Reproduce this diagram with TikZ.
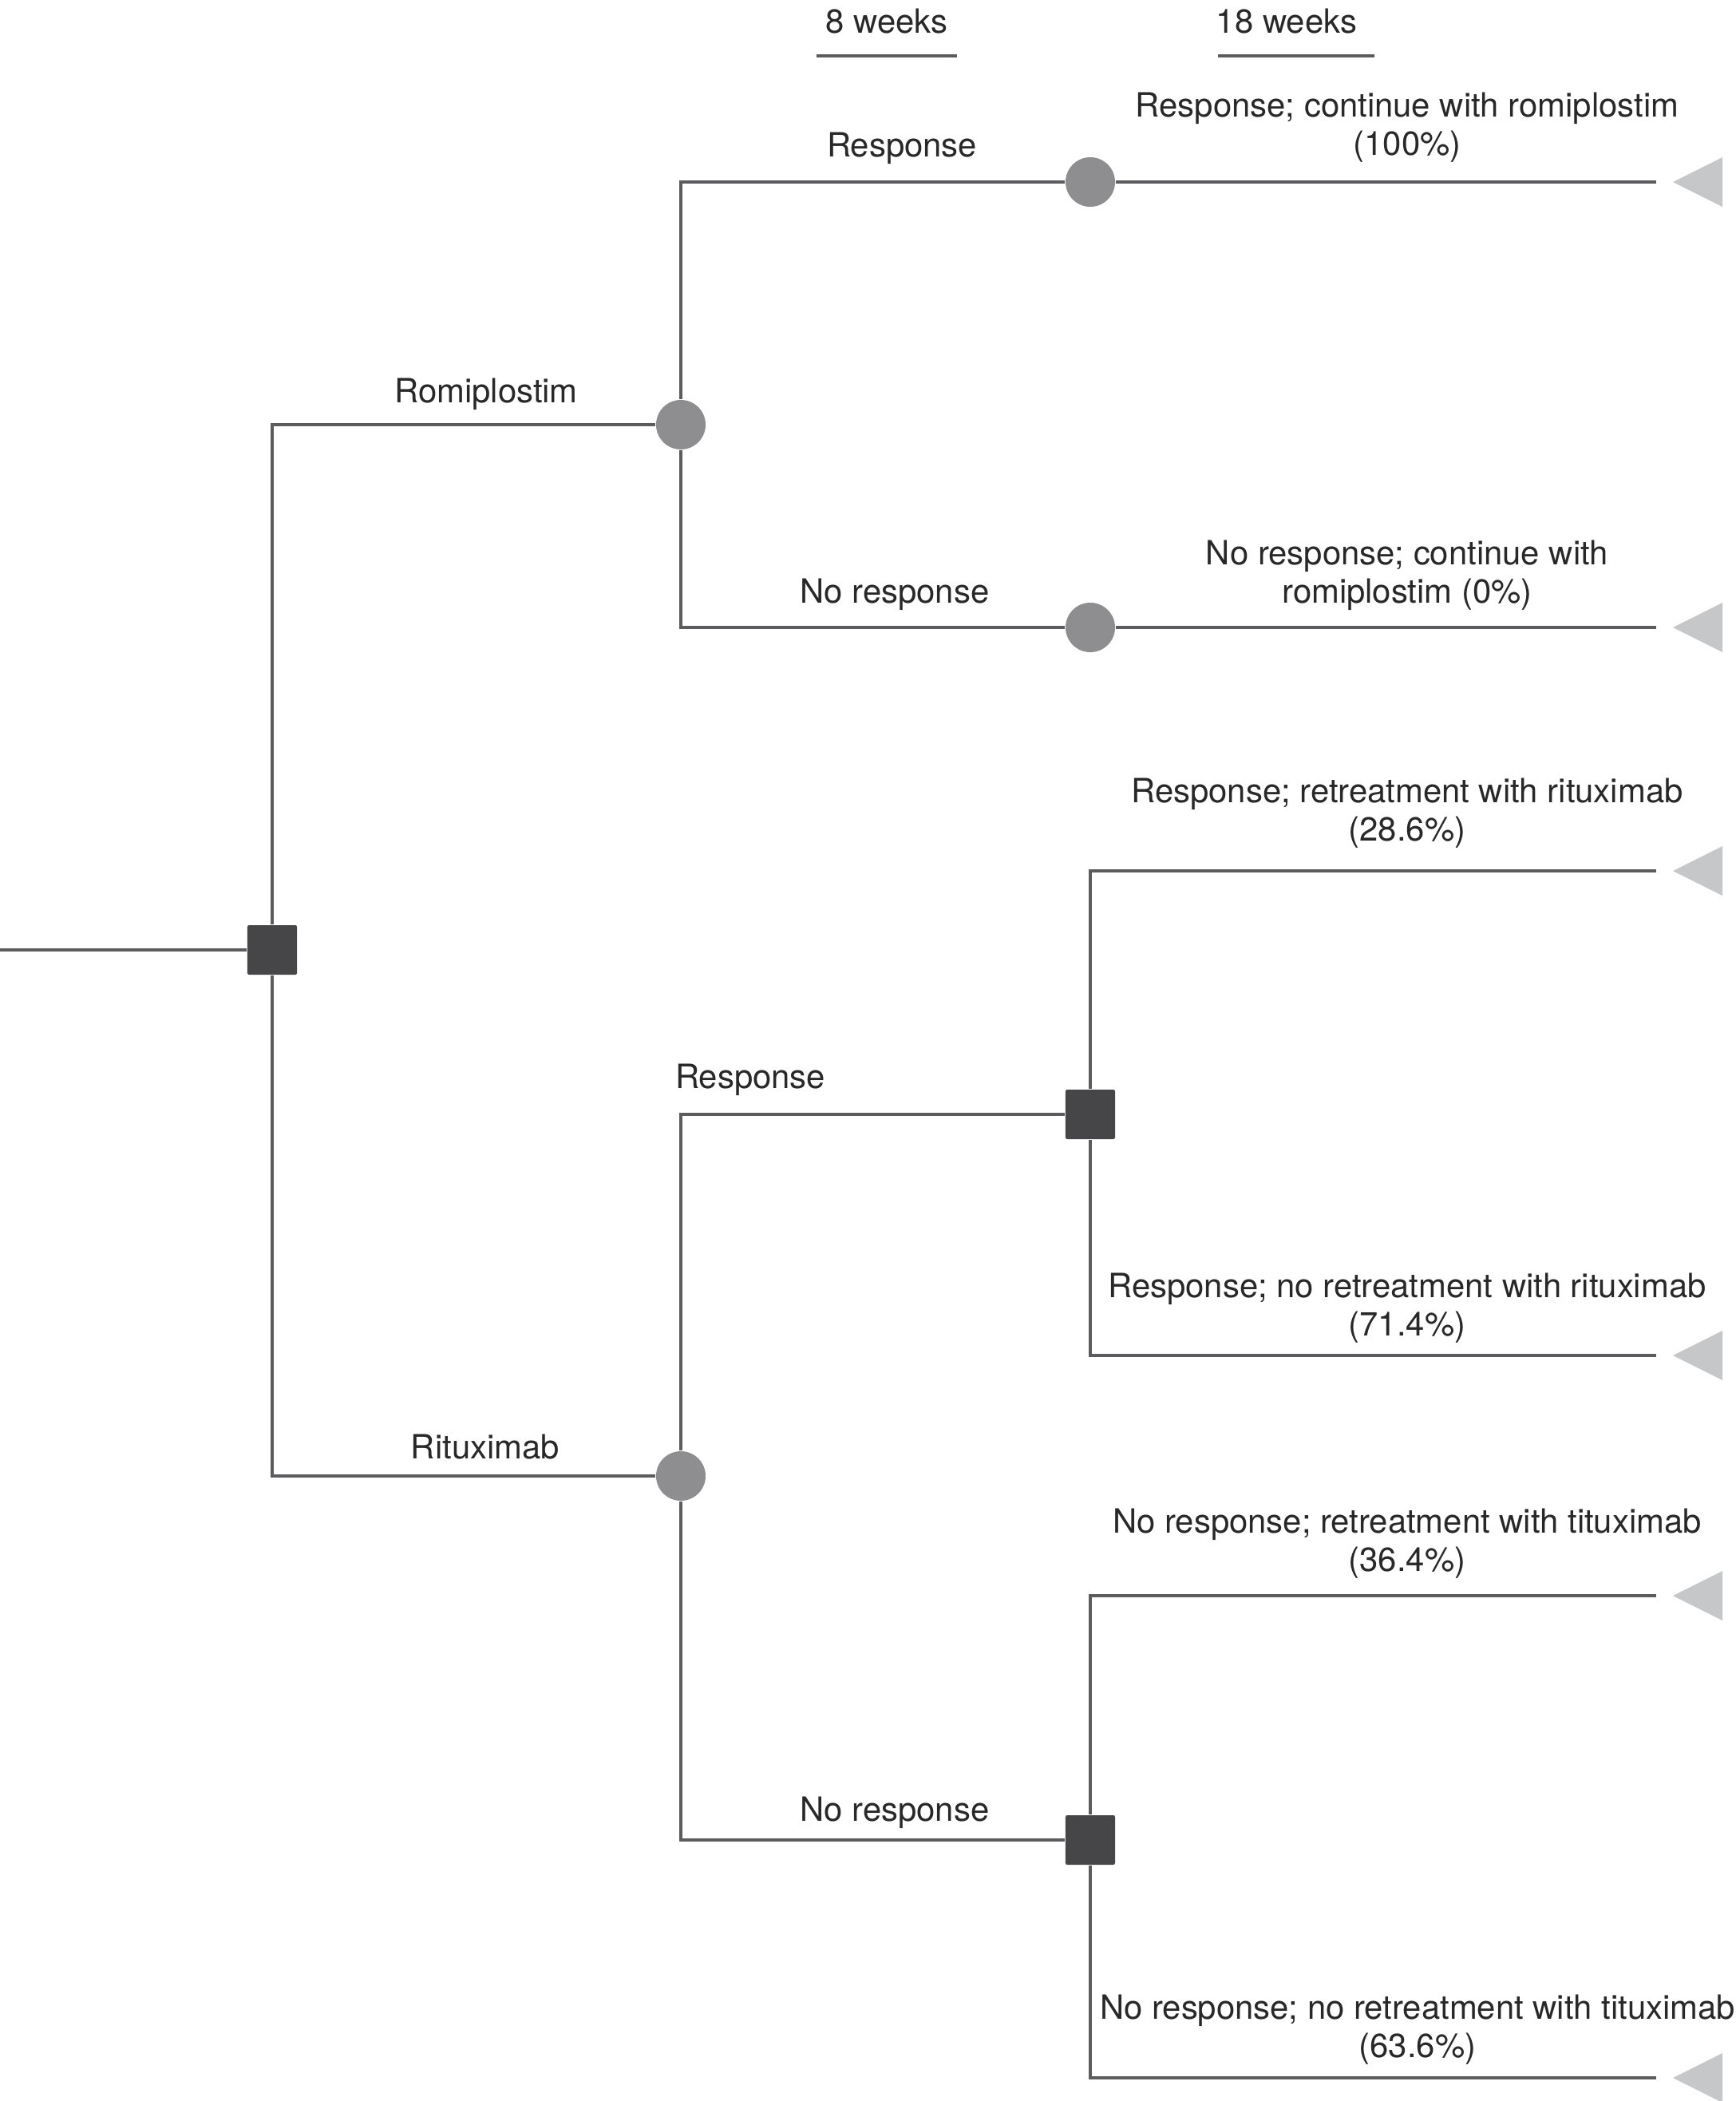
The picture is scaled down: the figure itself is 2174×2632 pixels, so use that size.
\documentclass[tikz,border=0pt]{standalone}
\usepackage{fontspec}
\setmainfont{TeX Gyre Heros}
\usetikzlibrary{positioning}

\definecolor{linegray}{RGB}{92,92,94}
\definecolor{chancegray}{RGB}{142,142,144}
\definecolor{decisiongray}{RGB}{70,70,72}
\definecolor{endgray}{RGB}{198,199,201}
\definecolor{textgray}{RGB}{40,40,40}

\begin{document}
\begin{tikzpicture}[
    x=0.01cm, y=-0.01cm,
    every node/.style={font=\fontsize{11.9pt}{13.7pt}\selectfont, text=textgray, align=center},
    lbl/.style={inner sep=0pt},
    chance/.style={circle, fill=chancegray, minimum size=0.62cm, inner sep=0pt},
    decision/.style={rectangle, fill=decisiongray, minimum size=0.62cm, inner sep=0pt, rounded corners=0.6pt},
    branch/.style={draw=linegray, line width=1.3pt},
    endtri/.style={fill=endgray}
]
\useasboundingbox (0,0) rectangle (2174,2632);

% Time headers
\node[lbl] (w8) at (1111,27) {8 weeks};
\node[lbl] (w18) at (1612,27) {18 weeks};
\draw[branch] ([xshift=-0.88cm, yshift=-0.43cm]w8.center) -- ([xshift=0.88cm, yshift=-0.43cm]w8.center);
\draw[branch] ([xshift=-0.86cm, yshift=-0.43cm]w18.center) -- ([xshift=1.10cm, yshift=-0.43cm]w18.center);

% Nodes
\coordinate (start) at (0,1190);
\node[decision] (s0) at (341,1190) {};
\node[chance] (c1) at (853,532) {};
\node[chance] (c2) at (1366,228) {};
\node[chance] (c3) at (1366,786) {};
\node[chance] (c4) at (853,1849) {};
\node[decision] (s1) at (1366,1396) {};
\node[decision] (s2) at (1366,2305) {};

% Terminal ends
\coordinate (e1) at (2075,228);
\coordinate (e2) at (2075,786);
\coordinate (e3) at (2075,1091);
\coordinate (e4) at (2075,1698);
\coordinate (e5) at (2075,1999);
\coordinate (e6) at (2075,2603);
\fill[endtri] (e1) ++(21,0) -- ++(62,-31) -- ++(0,62) -- cycle;
\fill[endtri] (e2) ++(21,0) -- ++(62,-31) -- ++(0,62) -- cycle;
\fill[endtri] (e3) ++(21,0) -- ++(62,-31) -- ++(0,62) -- cycle;
\fill[endtri] (e4) ++(21,0) -- ++(62,-31) -- ++(0,62) -- cycle;
\fill[endtri] (e5) ++(21,0) -- ++(62,-31) -- ++(0,62) -- cycle;
\fill[endtri] (e6) ++(21,0) -- ++(62,-31) -- ++(0,62) -- cycle;

% Branches
\draw[branch] (start) -- (s0);
\draw[branch] (s0) |- (c1);
\draw[branch] (s0) |- (c4);
\draw[branch] (c1) |- (c2);
\draw[branch] (c1) |- (c3);
\draw[branch] (c2) -- (e1);
\draw[branch] (c3) -- (e2);
\draw[branch] (c4) |- (s1);
\draw[branch] (c4) |- (s2);
\draw[branch] (s1) |- (e3);
\draw[branch] (s1) |- (e4);
\draw[branch] (s2) |- (e5);
\draw[branch] (s2) |- (e6);

% Branch labels
\node[lbl] (romi) at (609,494) {Romiplostim};
\node[lbl] (ritu) at (608,1813) {Rituximab};
\node[lbl] (resp1) at (1130,186) {Response};
\node[lbl] (noresp1) at (1121,745) {No response};
\node[lbl] (resp2) at (940,1353) {Response};
\node[lbl] (noresp2) at (1121,2271) {No response};

% Outcome labels
\node[lbl] (out1) at (1763,160) {Response; continue with romiplostim\\(100\%)};
\node[lbl] (out2) at (1763,721) {No response; continue with\\romiplostim (0\%)};
\node[lbl] (out3) at (1763,1019) {Response; retreatment with rituximab\\(28.6\%)};
\node[lbl] (out4) at (1763,1639) {Response; no retreatment with rituximab\\(71.4\%)};
\node[lbl] (out5) at (1763,1934) {No response; retreatment with tituximab\\(36.4\%)};
\node[lbl] (out6) at (1776,2543) {No response; no retreatment with tituximab\\(63.6\%)};

\end{tikzpicture}
\end{document}
